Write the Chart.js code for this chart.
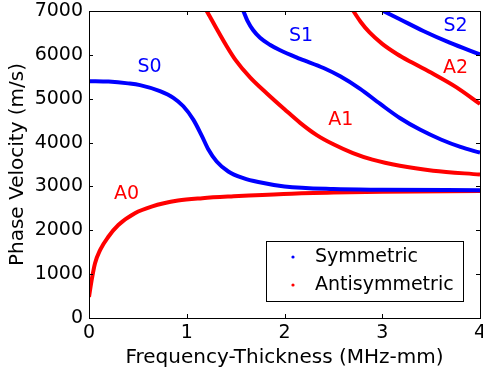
<!DOCTYPE html>
<html>
<head>
<meta charset="utf-8">
<script src="https://cdn.jsdelivr.net/npm/chart.js@4.4.0/dist/chart.umd.min.js"></script>
<style>
  html, body { margin: 0; padding: 0; background: #fff; }
  #wrap { width: 483px; height: 374px; }
</style>
</head>
<body>
<div id="wrap"><canvas id="c"></canvas></div>
<script>
// dispersion curves (x: MHz-mm, y: m/s)
const s0X = [0, 0.2, 0.4, 0.522, 0.726, 0.863, 0.965, 1.067, 1.153, 1.22, 1.306, 1.425, 1.579, 1.732, 2.0, 2.5, 3, 4];
const s0Y = [5400, 5390, 5350, 5310, 5172, 5021, 4828, 4524, 4160, 3850, 3570, 3341, 3190, 3100, 3000, 2940, 2925, 2915];

const a0X = [0, 0.027, 0.061, 0.113, 0.198, 0.30, 0.47, 0.64, 0.91, 1.16, 1.48, 1.99, 2.5, 3, 4];
const a0Y = [480, 862, 1245, 1549, 1853, 2121, 2389, 2540, 2677, 2732, 2775, 2830, 2860, 2880, 2895];

const a1X = [1.204, 1.30, 1.40, 1.50, 1.65, 1.82, 2.0, 2.16, 2.33, 2.5, 2.7, 2.9, 3.18, 3.52, 4];
const a1Y = [7000, 6620, 6230, 5880, 5480, 5120, 4760, 4450, 4170, 3960, 3760, 3610, 3470, 3360, 3270];

const s1X = [1.579, 1.62, 1.68, 1.75, 1.85, 1.95, 2.16, 2.4, 2.57, 2.77, 2.98, 3.18, 3.39, 3.6, 3.8, 4];
const s1Y = [7000, 6780, 6560, 6390, 6230, 6110, 5910, 5700, 5510, 5230, 4880, 4560, 4290, 4070, 3900, 3770];

const a2X = [2.704, 2.78, 2.87, 3.0, 3.15, 3.3, 3.52, 3.76, 4];
const a2Y = [7000, 6750, 6510, 6250, 6020, 5830, 5570, 5260, 4880];

const s2X = [3.01, 3.18, 3.42, 3.69, 4];
const s2Y = [7000, 6812, 6545, 6279, 6011];

const xTicks = [0, 1, 2, 3, 4];
const yTicks = [0, 1000, 2000, 3000, 4000, 5000, 6000, 7000];

const modeNames = ["S0", "A0", "S1", "A1", "S2", "A2"];
const labelX = [0.62, 0.385, 2.17, 2.575, 3.75, 3.75];
const labelY = [5714, 2830, 6437, 4524, 6660, 5707];

const legendNames = ["Symmetric", "Antisymmetric"];

const BLUE = "rgb(0,0,255)";
const RED = "rgb(255,0,0)";
const FONT = "'DejaVu Sans', sans-serif";

const pts = (xs, ys) => xs.map((v, i) => ({ x: v, y: ys[i] }));

const curve = (name, xs, ys, color) => ({
    label: name,
    data: pts(xs, ys),
    borderColor: color,
    backgroundColor: color,
    borderWidth: 4,
    pointRadius: 0,
    showLine: true,
    cubicInterpolationMode: "monotone",
});

// box, inside ticks, mode labels and legend, MATLAB style
const decor = {
    id: "decor",
    afterDatasetsDraw(chart) {
        const { ctx, chartArea: a, scales } = chart;
        const sx = scales.x, sy = scales.y;
        ctx.save();
        ctx.strokeStyle = "#000";
        ctx.lineWidth = 1;
        ctx.strokeRect(a.left + 0.5, a.top + 0.5, a.right - a.left, a.bottom - a.top);
        ctx.beginPath();
        xTicks.forEach(t => {
            const px = Math.round(sx.getPixelForValue(t)) + 0.5;
            ctx.moveTo(px, a.bottom); ctx.lineTo(px, a.bottom - 4);
            ctx.moveTo(px, a.top); ctx.lineTo(px, a.top + 4);
        });
        yTicks.forEach(t => {
            const py = Math.round(sy.getPixelForValue(t)) + 0.5;
            ctx.moveTo(a.left, py); ctx.lineTo(a.left + 4, py);
            ctx.moveTo(a.right, py); ctx.lineTo(a.right - 4, py);
        });
        ctx.stroke();

        ctx.font = "19px " + FONT;
        ctx.textAlign = "center";
        ctx.textBaseline = "middle";
        modeNames.forEach((n, i) => {
            ctx.fillStyle = n[0] === "S" ? BLUE : RED;
            ctx.fillText(n, sx.getPixelForValue(labelX[i]), sy.getPixelForValue(labelY[i]));
        });

        // legend box
        ctx.fillStyle = "#fff";
        ctx.fillRect(266, 241, 197, 60);
        ctx.strokeRect(266.5, 241.5, 197, 60);
        ctx.textAlign = "left";
        const cols = [BLUE, RED];
        legendNames.forEach((n, i) => {
            const yy = 257 + i * 28;
            ctx.fillStyle = cols[i];
            ctx.beginPath();
            ctx.arc(293, yy, 1.6, 0, Math.PI * 2);
            ctx.fill();
            ctx.fillStyle = "#000";
            ctx.fillText(n, 315, yy);
        });
        ctx.restore();
    }
};

new Chart(document.getElementById("c"), {
    type: "scatter",
    data: {
        datasets: [
            curve("S0", s0X, s0Y, BLUE),
            curve("A0", a0X, a0Y, RED),
            curve("S1", s1X, s1Y, BLUE),
            curve("A1", a1X, a1Y, RED),
            curve("S2", s2X, s2Y, BLUE),
            curve("A2", a2X, a2Y, RED),
        ],
    },
    options: {
        responsive: true,
        maintainAspectRatio: false,
        animation: false,
        layout: { padding: { top: 11, right: 3, left: 0, bottom: 0 } },
        plugins: { legend: { display: false }, tooltip: { enabled: false } },
        scales: {
            x: {
                type: "linear",
                min: 0, max: 4,
                afterBuildTicks: s => { s.ticks = xTicks.map(v => ({ value: v })); },
                afterFit: s => { s.height = 56; s.paddingLeft = 0; s.paddingRight = 0; },
                grid: { display: true, drawOnChartArea: false, drawTicks: false },
                border: { display: false },
                ticks: { color: "#000", padding: 4, font: { family: FONT, size: 19 }, callback: v => String(v) },
                title: {
                    display: true,
                    text: "Frequency-Thickness (MHz-mm)",
                    color: "#000",
                    font: { family: FONT, size: 20 },
                    padding: { top: 0, bottom: 4 },
                },
            },
            y: {
                type: "linear",
                min: 0, max: 7000,
                afterBuildTicks: s => { s.ticks = yTicks.map(v => ({ value: v })); },
                afterFit: s => { s.width = 89; s.paddingTop = 0; s.paddingBottom = 0; },
                grid: { display: true, drawOnChartArea: false, drawTicks: false },
                border: { display: false },
                ticks: { color: "#000", padding: 6, font: { family: FONT, size: 19 }, callback: v => String(v) },
                title: {
                    display: true,
                    text: "Phase Velocity (m/s)",
                    color: "#000",
                    font: { family: FONT, size: 20 },
                    padding: { top: 6, bottom: 0 },
                },
            },
        },
    },
    plugins: [decor],
});
</script>
</body>
</html>
